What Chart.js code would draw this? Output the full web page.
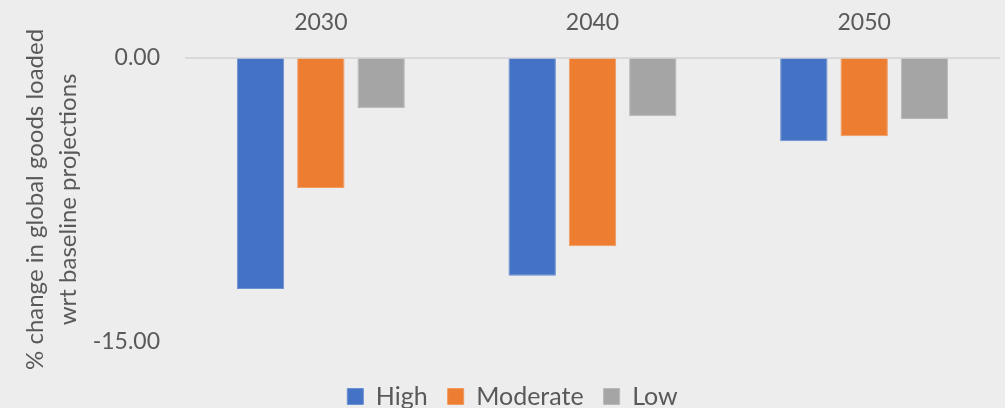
<!DOCTYPE html>
<html>
<head>
<meta charset="utf-8">
<script src="https://cdn.jsdelivr.net/npm/chart.js@4/dist/chart.umd.min.js"></script>
<style>
  html, body { margin: 0; padding: 0; background: #ededed; }
  #wrap { width: 1005px; height: 408px; }
</style>
</head>
<body>
<div id="wrap"><canvas id="c" width="1005" height="408"></canvas></div>
<script>
// Scenario years on the category axis
const years = ['2030', '2040', '2050'];

// % change in global goods loaded, per scenario
const high = [-12.23, -11.53, -4.42];
const moderate = [-6.90, -9.98, -4.16];
const low = [-2.68, -3.10, -3.25];

// Value axis tick labels
const yTicks = [0, -15];

const textColor = '#595959';
const fontFamily = 'Lato, "Open Sans", sans-serif';

new Chart(document.getElementById('c'), {
  type: 'bar',
  data: {
    labels: years,
    datasets: [
      { label: 'High', data: high, backgroundColor: '#4472C4', borderColor: '#6a8fd2', borderWidth: 1 },
      { label: 'Moderate', data: moderate, backgroundColor: '#ED7D31', borderColor: '#f19a60', borderWidth: 1 },
      { label: 'Low', data: low, backgroundColor: '#A5A5A5', borderColor: '#b8b8b8', borderWidth: 1 }
    ]
  },
  options: {
    responsive: false,
    animation: false,
    layout: { padding: { left: 25, right: 5, top: 0, bottom: -11 } },
    datasets: {
      bar: { categoryPercentage: 0.666, barPercentage: 0.786 }
    },
    plugins: {
      legend: {
        position: 'bottom',
        title: {
          display: true,
          text: ' ',
          font: { size: 11 },
          padding: { top: 0, bottom: 9.5 }
        },
        labels: {
          color: textColor,
          font: { family: fontFamily, size: 25 },
          boxWidth: 16,
          boxHeight: 16,
          padding: 20
        }
      },
      tooltip: { enabled: false }
    },
    scales: {
      x: {
        position: 'top',
        grid: { display: false, drawTicks: false },
        border: { display: false },
        ticks: {
          color: textColor,
          font: { family: fontFamily, size: 23 },
          padding: 21
        },
        afterFit(scale) { scale.height = 57.5; }
      },
      y: {
        min: -15,
        max: 0,
        afterBuildTicks(scale) { scale.ticks = yTicks.map(v => ({ value: v })); },
        grid: {
          color: ctx => (ctx.tick && ctx.tick.value === 0) ? '#d9d9d9' : 'rgba(0,0,0,0)',
          lineWidth: 2,
          drawTicks: false
        },
        border: { display: false },
        ticks: {
          color: textColor,
          font: { family: fontFamily, size: 23 },
          padding: 25,
          callback: v => Number(v).toFixed(2)
        },
        title: {
          display: true,
          text: ['% change in global goods loaded', 'wrt baseline projections'],
          color: textColor,
          font: { family: fontFamily, size: 24, lineHeight: 1.4 },
          padding: { top: -7, bottom: 0 }
        },
        afterFit(scale) { scale.width = 160; }
      }
    }
  }
});
</script>
</body>
</html>
